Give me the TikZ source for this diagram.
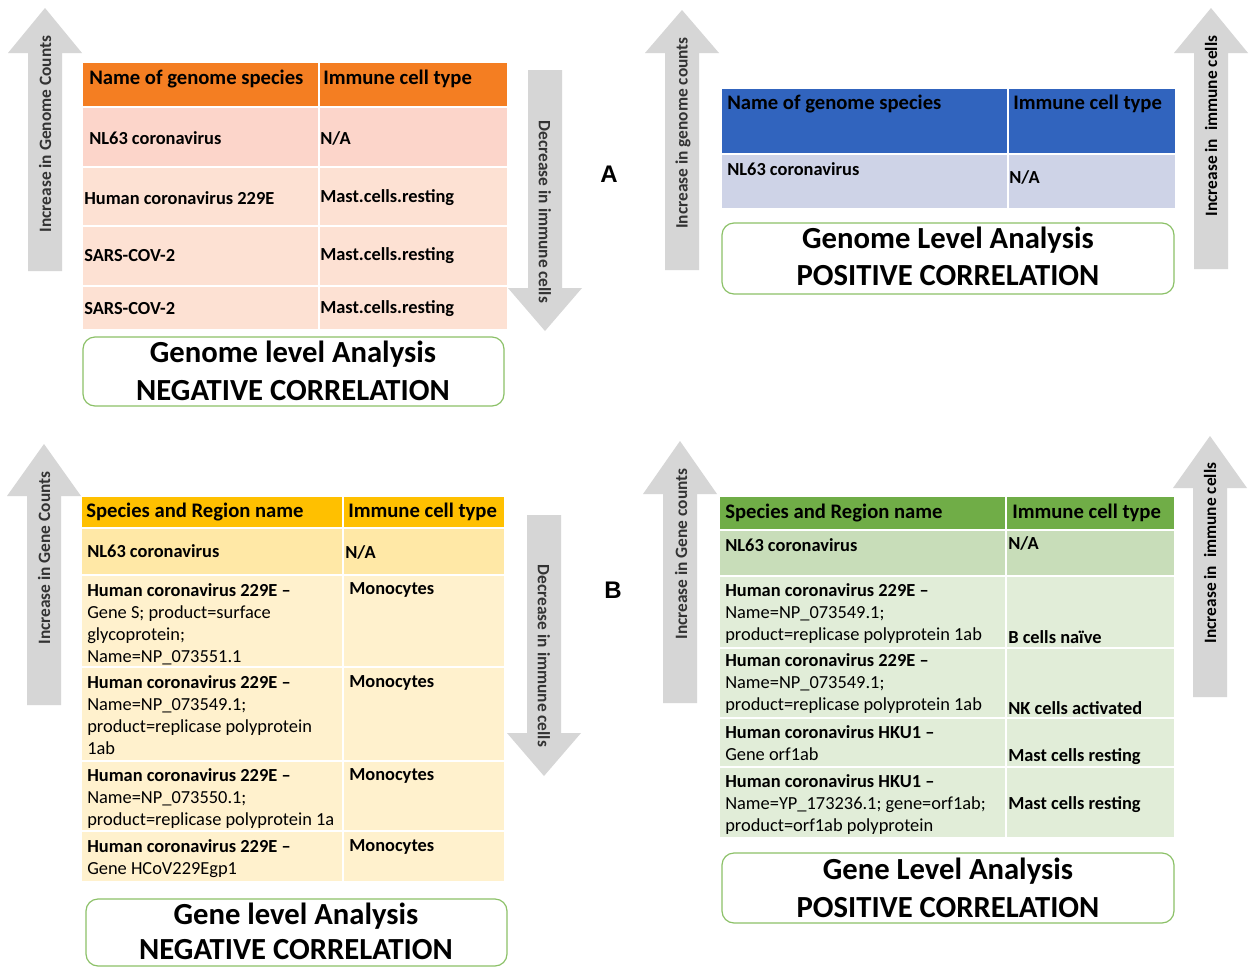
\documentclass[tikz,border=0pt]{standalone}
\usepackage{fontspec}
\setmainfont{Carlito}
\newfontfamily\arialfont{Liberation Sans}
\definecolor{arrowgray}{HTML}{D6D6D6}
\definecolor{arrowtxt}{HTML}{333333}
\definecolor{boxgreen}{HTML}{8CC168}
\definecolor{orangehead}{HTML}{F47E22}
\definecolor{orangeA}{HTML}{FCD5CA}
\definecolor{orangeB}{HTML}{FDE1D3}
\definecolor{bluehead}{HTML}{3164BE}
\definecolor{blueA}{HTML}{CED3E7}
\definecolor{goldhead}{HTML}{FFC000}
\definecolor{goldA}{HTML}{FFE8A6}
\definecolor{goldB}{HTML}{FFF1CD}
\definecolor{greenhead}{HTML}{70AD47}
\definecolor{greenA}{HTML}{C8DDB9}
\definecolor{greenB}{HTML}{E1EDD8}
\newcommand\myUpArrow[4]{% cx, tip, headbase, bottom
  \fill[arrowgray] (#1-17,#4) -- (#1-17,#3) -- (#1-37,#3) -- (#1,#2) -- (#1+37,#3) -- (#1+17,#3) -- (#1+17,#4) -- cycle;}
\newcommand\myDownArrow[4]{% cx, top, headbase, tip
  \fill[arrowgray] (#1-17,#2) -- (#1-17,#3) -- (#1-37,#3) -- (#1,#4) -- (#1+37,#3) -- (#1+17,#3) -- (#1+17,#2) -- cycle;}
\tikzset{
  arrowtext/.style={font=\bfseries\fontsize{13}{15}\selectfont, text=arrowtxt, inner sep=0},
  celltext/.style={font=\bfseries\fontsize{13.8}{16.6}\selectfont, inner sep=0, anchor=west},
  multitext/.style={font=\fontsize{13.8}{16.6}\selectfont, inner sep=0, anchor=north west, align=left},
  headtext/.style={font=\bfseries\fontsize{15.5}{18}\selectfont, inner sep=0, anchor=west},
  titletext/.style={font=\bfseries\fontsize{23}{27}\selectfont, inner sep=0},
  titlebox/.style={draw=boxgreen, line width=0.9pt, rounded corners=9pt, fill=white},
  gridline/.style={draw=white, line width=1.5pt},
  panellabel/.style={font=\arialfont\bfseries\fontsize{18}{20}\selectfont, inner sep=0},
}
\begin{document}
\begin{tikzpicture}[x=0.75pt,y=-0.75pt]
\useasboundingbox (0,0) rectangle (1258,968);
\fill[white] (0,0) rectangle (1258,968);

%================ Panel A, left (negative) =================
\myUpArrow{45}{8}{53}{271}
\node[arrowtext, rotate=90] (a1up) at (45,134) {Increase in Genome Counts};
\myDownArrow{545}{70}{288}{331}
\node[arrowtext, rotate=-90] (a1down) at (545,212) {Decrease in immune cells};

\fill[orangehead] (83,63) rectangle (507,107);
\fill[orangeA] (83,107) rectangle (507,167);
\fill[orangeB] (83,167) rectangle (507,329);
\draw[gridline] (83,107) -- (507,107);
\draw[gridline] (83,167) -- (507,167);
\draw[gridline] (83,226) -- (507,226);
\draw[gridline] (83,286) -- (507,286);
\draw[gridline] (319,63) -- (319,329);

\node[headtext] (a1h1) at (89,79) {Name of genome species};
\node[headtext] (a1h2) at (323,79) {Immune cell type};
\node[celltext] (a1r1a) at (89,138) {NL63 coronavirus};
\node[celltext] (a1r1b) at (320,138) {N/A};
\node[celltext] (a1r2a) at (84,198) {Human coronavirus 229E};
\node[celltext] (a1r2b) at (320,198) {Mast.cells.resting};
\node[celltext] (a1r3a) at (84,256) {SARS-COV-2};
\node[celltext] (a1r3b) at (320,256) {Mast.cells.resting};
\node[celltext] (a1r4a) at (84,309) {SARS-COV-2};
\node[celltext] (a1r4b) at (320,309) {Mast.cells.resting};

\draw[titlebox] (83,337) rectangle (504,406);
\node[titletext] (a1t1) at (293,354) {Genome level Analysis};
\node[titletext] (a1t2) at (293,391) {NEGATIVE CORRELATION};

\node[panellabel] (labA) at (609,174) {A};

%================ Panel A, right (positive) =================
\myUpArrow{682}{10}{53}{270}
\node[arrowtext, rotate=90] (a2up) at (683,133) {Increase in genome counts};
\myUpArrow{1211}{8}{53}{269}
\node[arrowtext, rotate=90, text=black] (a2up2) at (1211,126) {Increase in\ \ immune cells};

\fill[bluehead] (722,89) rectangle (1175,154);
\fill[blueA] (722,154) rectangle (1175,208);
\draw[gridline] (722,154) -- (1175,154);
\draw[gridline] (1008,89) -- (1008,208);
\node[headtext] (a2h1) at (727,104) {Name of genome species};
\node[headtext] (a2h2) at (1013,104) {Immune cell type};
\node[celltext] (a2r1a) at (727,169) {NL63 coronavirus};
\node[celltext] (a2r1b) at (1009,177) {N/A};

\draw[titlebox] (722,223) rectangle (1174,294);
\node[titletext] (a2t1) at (948,240) {Genome Level Analysis};
\node[titletext] (a2t2) at (948,276) {POSITIVE CORRELATION};

%================ Panel B, left (negative) =================
\myUpArrow{44}{444}{496}{705}
\node[arrowtext, rotate=90] (b1up) at (44,558) {Increase in Gene Counts};
\myDownArrow{544}{515}{733}{776}
\node[arrowtext, rotate=-90] (b1down) at (544,656) {Decrease in immune cells};

\fill[goldhead] (82,497) rectangle (504,528);
\fill[goldA] (82,528) rectangle (504,575);
\fill[goldB] (82,575) rectangle (504,881);
\draw[gridline] (82,528) -- (504,528);
\draw[gridline] (82,575) -- (504,575);
\draw[gridline] (82,667) -- (504,667);
\draw[gridline] (82,761) -- (504,761);
\draw[gridline] (82,831) -- (504,831);
\draw[gridline] (343,497) -- (343,881);

\node[headtext] (b1h1) at (86,512) {Species and Region name};
\node[headtext] (b1h2) at (348,512) {Immune cell type};
\node[celltext] (b1r1a) at (87,551) {NL63 coronavirus};
\node[celltext] (b1r1b) at (345,552) {N/A};
\node[multitext] (b1r2a) at (87,583) {\textbf{Human coronavirus 229E –}\\Gene S; product=surface\\glycoprotein;\\Name=NP\_073551.1};
\node[celltext] (b1r2b) at (349,590) {Monocytes};
\node[multitext] (b1r3a) at (87,675) {\textbf{Human coronavirus 229E –}\\Name=NP\_073549.1;\\product=replicase polyprotein\\1ab};
\node[celltext] (b1r3b) at (349,683) {Monocytes};
\node[multitext] (b1r4a) at (87,768) {\textbf{Human coronavirus 229E –}\\Name=NP\_073550.1;\\product=replicase polyprotein 1a};
\node[celltext] (b1r4b) at (349,776) {Monocytes};
\node[multitext] (b1r5a) at (87,839) {\textbf{Human coronavirus 229E –}\\Gene HCoV229Egp1};
\node[celltext] (b1r5b) at (349,847) {Monocytes};

\draw[titlebox] (86,899) rectangle (507,966);
\node[titletext] (b1t1) at (296,916) {Gene level Analysis};
\node[titletext] (b1t2) at (296,950) {NEGATIVE CORRELATION};

\node[panellabel] (labB) at (613,590) {B};

%================ Panel B, right (positive) =================
\myUpArrow{680}{441}{494}{703}
\node[arrowtext, rotate=90] (b2up) at (681,554) {Increase in Gene counts};
\myUpArrow{1210}{436}{488}{697}
\node[arrowtext, rotate=90, text=black] (b2up2) at (1210,553) {Increase in\ \ immune cells};

\fill[greenhead] (720,497) rectangle (1174,530);
\fill[greenA] (720,530) rectangle (1174,576);
\fill[greenB] (720,576) rectangle (1174,837);
\draw[gridline] (720,530) -- (1174,530);
\draw[gridline] (720,576) -- (1174,576);
\draw[gridline] (720,648) -- (1174,648);
\draw[gridline] (720,718) -- (1174,718);
\draw[gridline] (720,767) -- (1174,767);
\draw[gridline] (1006,497) -- (1006,837);

\node[headtext] (b2h1) at (725,513) {Species and Region name};
\node[headtext] (b2h2) at (1012,513) {Immune cell type};
\node[celltext] (b2r1a) at (725,545) {NL63 coronavirus};
\node[celltext] (b2r1b) at (1008,543) {N/A};
\node[multitext] (b2r2a) at (725,583) {\textbf{Human coronavirus 229E –}\\Name=NP\_073549.1;\\product=replicase polyprotein 1ab};
\node[celltext] (b2r2b) at (1008,637) {B cells naïve};
\node[multitext] (b2r3a) at (725,653) {\textbf{Human coronavirus 229E –}\\Name=NP\_073549.1;\\product=replicase polyprotein 1ab};
\node[celltext] (b2r3b) at (1008,708) {NK cells activated};
\node[multitext] (b2r4a) at (725,725) {\textbf{Human coronavirus HKU1 –}\\Gene orf1ab};
\node[celltext] (b2r4b) at (1008,757) {Mast cells resting};
\node[multitext] (b2r5a) at (725,774) {\textbf{Human coronavirus HKU1 –}\\Name=YP\_173236.1; gene=orf1ab;\\product=orf1ab polyprotein};
\node[celltext] (b2r5b) at (1008,805) {Mast cells resting};

\draw[titlebox] (722,853) rectangle (1174,923);
\node[titletext] (b2t1) at (948,871) {Gene Level Analysis};
\node[titletext] (b2t2) at (948,908) {POSITIVE CORRELATION};
\end{tikzpicture}
\end{document}
